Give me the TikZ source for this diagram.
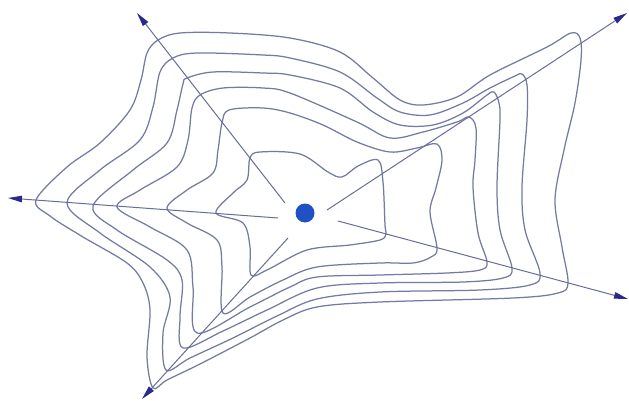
\documentclass[tikz,border=0pt]{standalone}
\usetikzlibrary{arrows.meta}
\definecolor{contourc}{HTML}{737BA2}
\definecolor{rayc}{HTML}{666D98}
\definecolor{tipc}{HTML}{2A2A8C}
\definecolor{dotc}{HTML}{1F50C4}
\tikzset{
  contour/.style={draw=contourc, line width=1.25pt, line join=round},
  ray/.style={draw=rayc, line width=1pt, -{Triangle[length=14pt,width=6.5pt,color=tipc]}},
  centerdot/.style={circle, fill=dotc, inner sep=0pt, minimum size=19pt}
}
\begin{document}
\begin{tikzpicture}[x=1pt,y=-1pt]
\useasboundingbox (0,0) rectangle (629,401);
% centre
\node[centerdot] (c) at (305,213) {};
% ray coordinates
\coordinate (ulS) at (285,203); \coordinate (ulE) at (137,13);
\coordinate (urS) at (327,210); \coordinate (urE) at (627,13);
\coordinate (lS) at (278,218);  \coordinate (lE) at (8,198);
\coordinate (lrS) at (338,221); \coordinate (lrE) at (628,299);
\coordinate (llS) at (288,238); \coordinate (llE) at (142,399);
% contours (outer to inner)
\draw[contour] plot[smooth cycle, tension=0.55] coordinates {
(158,40) (180,33) (230,33) (290,38) (340,52) (373,78) (400,100) (423,105) (457,97) (490,75) (547,47) (571,33) (580,38) (581,60) (575,103) (564,150) (555,200) (562,247) (568,283) (558,293) (513,298) (380,302) (317,307) (283,320) (250,338) (200,364) (167,380) (153,388) (147,357) (150,310) (143,283) (127,263) (83,237) (50,216) (36,200) (67,167) (100,143) (130,110) (141,80) (147,53)};
\draw[contour] plot[smooth cycle, tension=0.55] coordinates {
(173,58) (197,53) (263,55) (290,58) (340,72) (377,98) (400,112) (430,115) (463,103) (490,88) (515,76) (522,74) (527,85) (527,120) (522,187) (525,230) (540,273) (530,285) (480,290) (380,292) (317,299) (277,316) (233,338) (190,358) (166,370) (163,333) (170,297) (150,267) (100,233) (67,203) (100,170) (140,140) (153,107) (160,72)};
\draw[contour] plot[smooth cycle, tension=0.55] coordinates {
(187,78) (213,72) (263,73) (290,75) (340,88) (373,112) (400,125) (433,125) (463,113) (487,95) (494,92) (499,103) (500,120) (497,187) (500,230) (512,268) (503,278) (463,282) (380,283) (317,288) (267,310) (223,331) (183,348) (180,317) (182,280) (167,260) (117,230) (93,206) (133,170) (167,143) (177,110) (183,84)};
\draw[contour] plot[smooth cycle, tension=0.55] coordinates {
(200,95) (223,88) (263,88) (290,93) (357,122) (390,138) (423,132) (457,122) (469,117) (476,128) (475,160) (473,187) (478,233) (487,262) (480,270) (447,273) (380,275) (317,277) (290,287) (250,307) (197,333) (193,287) (187,250) (150,227) (117,207) (140,190) (177,167) (188,140) (192,108)};
\draw[contour] plot[smooth cycle, tension=0.55] coordinates {
(222,123) (229,110) (263,108) (290,113) (323,125) (357,142) (390,152) (417,148) (437,144) (442,160) (436,188) (430,212) (437,248) (431,257) (413,263) (380,263) (317,267) (283,280) (250,297) (223,313) (222,267) (217,240) (187,223) (167,208) (187,190) (213,173) (218,150)};
\draw[contour] plot[smooth cycle, tension=0.55] coordinates {
(250,158) (260,152) (300,154) (328,172) (342,177) (358,166) (378,160) (383,182) (385,225) (386,234) (380,240) (350,245) (307,250) (267,270) (251,275) (250,247) (243,223) (216,213) (233,193) (247,180)};
% rays
\draw[ray] (ulS) -- (ulE);
\draw[ray] (urS) -- (urE);
\draw[ray] (lS) -- (lE);
\draw[ray] (lrS) -- (lrE);
\draw[ray] (llS) -- (llE);
\end{tikzpicture}
\end{document}
